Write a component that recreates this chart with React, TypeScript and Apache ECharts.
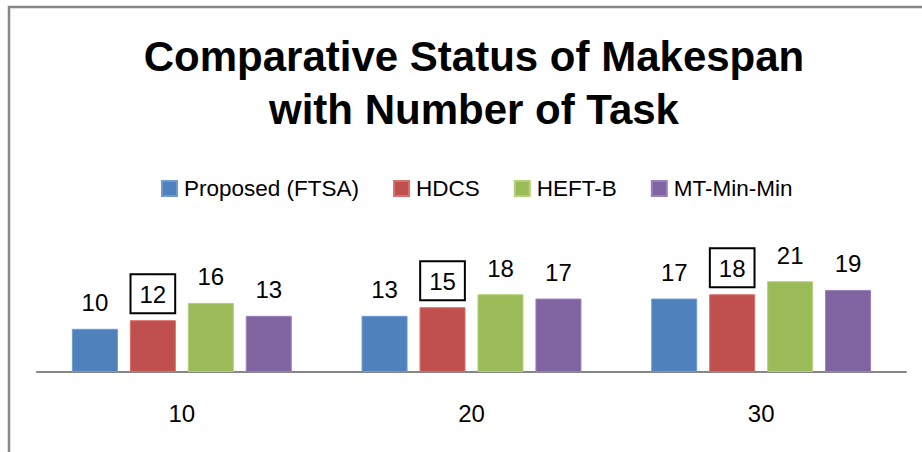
import React, { useEffect, useRef } from "react";
import * as echarts from "echarts";

const categories = ["10", "20", "30"];
const seriesNames = ["Proposed (FTSA)", "HDCS", "HEFT-B", "MT-Min-Min"];
const proposed = [10, 13, 17];
const hdcs = [12, 15, 18];
const heftB = [16, 18, 21];
const mtMinMin = [13, 17, 19];
const colors = ["#4F81BD", "#C0504D", "#9BBB59", "#8064A2"];
const borderColors = ["#6F9BD1", "#D8716E", "#B3D17A", "#9B82BB"];

const FONT = "'Liberation Sans', Arial, sans-serif";

export default function App() {
  const ref = useRef<HTMLDivElement>(null);
  useEffect(() => {
    if (!ref.current) return;
    const chart = echarts.init(ref.current, undefined, { renderer: "svg" });
    const data = [proposed, hdcs, heftB, mtMinMin];
    chart.setOption({
      animation: false,
      backgroundColor: "#ffffff",
      title: {
        text: "Comparative Status of Makespan\nwith Number of Task",
        left: 469,
        top: 25,
        textAlign: "center",
        textStyle: {
          fontFamily: FONT,
          fontWeight: "bold",
          fontSize: 42,
          lineHeight: 53,
          color: "#000",
        },
      },
      legend: {
        data: seriesNames,
        left: 156,
        top: 172,
        itemWidth: 15,
        itemHeight: 15,
        itemGap: 34,
        icon: "rect",
        textStyle: {
          fontFamily: FONT,
          fontSize: 22.5,
          color: "#000",
          padding: [0, 0, 0, 2],
        },
      },
      grid: { left: 37, right: 16, top: 264, bottom: 80 },
      xAxis: {
        type: "category",
        data: categories,
        axisLine: { show: true, lineStyle: { color: "#868686", width: 2 } },
        axisTick: { show: false },
        axisLabel: {
          fontFamily: FONT,
          fontSize: 24,
          color: "#000",
          margin: 29,
        },
      },
      yAxis: {
        type: "value",
        min: 0,
        max: 25,
        show: false,
        splitLine: { show: false },
      },
      graphic: [
        {
          type: "rect",
          shape: { x: 9, y: 7, width: 1000, height: 1000 },
          style: { fill: "none", stroke: "#878787", lineWidth: 2.5 },
          silent: true,
          z: 100,
        },
      ],
      series: seriesNames.map((name, i) => ({
        name,
        type: "bar",
        data: data[i],
        barWidth: 46,
        barGap: "26%",
        itemStyle: { color: colors[i], borderColor: borderColors[i], borderWidth: 1 },
        label: {
          show: true,
          position: "top",
          distance: 7,
          fontFamily: FONT,
          fontSize: 24,
          lineHeight: 24,
          color: "#000",
          padding: [8, 9, 7, 9],
          ...(i === 1 ? { borderColor: "#000", borderWidth: 2 } : {}),
        },
      })),
    });
    return () => chart.dispose();
  }, []);
  return (
    <div
      ref={ref}
      style={{ position: "absolute", left: 0, top: 0, width: 922, height: 452 }}
    />
  );
}
